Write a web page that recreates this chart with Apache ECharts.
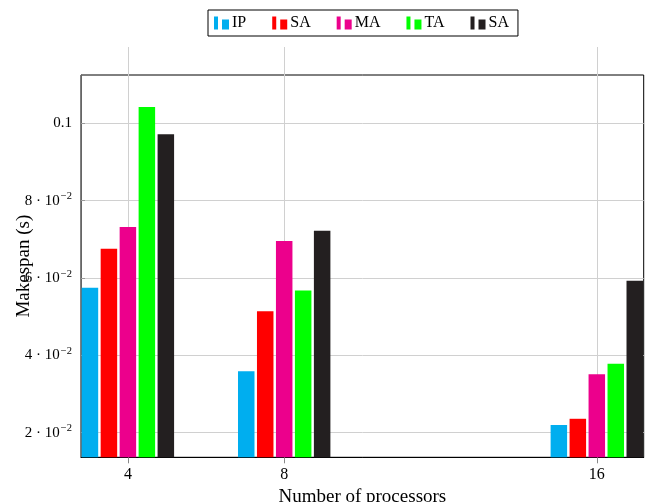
<!DOCTYPE html>
<html>
<head>
<meta charset="utf-8">
<script src="https://cdn.jsdelivr.net/npm/echarts@6/dist/echarts.min.js"></script>
<style>
  html, body { margin: 0; padding: 0; background: #fff; }
  #chart { width: 651px; height: 502px; }
</style>
</head>
<body>
<div id="chart"></div>
<script>
// Processor counts on the x axis
const processors = [4, 8, 16];
// Makespan (s) per method
const ipValues  = [0.0575, 0.0359, 0.0220];
const saValues  = [0.0676, 0.0514, 0.0236];
const maValues  = [0.0732, 0.0696, 0.0351];
const taValues  = [0.1042, 0.0568, 0.0378];
const sa2Values = [0.0972, 0.0722, 0.0593];
// Tick values
const yTicks = [0.02, 0.04, 0.06, 0.08, 0.1];
const xTicks = [4, 8, 16];

const seriesDefs = [
  { name: 'IP',  values: ipValues,  color: '#00AEEF' },
  { name: 'SA',  values: saValues,  color: '#FF0000' },
  { name: 'MA',  values: maValues,  color: '#EC008C' },
  { name: 'TA',  values: taValues,  color: '#00FF00' },
  { name: 'SA ', values: sa2Values, color: '#231F20' }
];

const serif = 'Liberation Serif, Times New Roman, serif';

const chart = echarts.init(document.getElementById('chart'), null, { renderer: 'canvas' });

const legendIcon = 'path://M0,0h4v13h-4zM8,3h7v10h-7z';

chart.setOption({
  animation: false,
  backgroundColor: '#fff',
  grid: {
    left: 81, right: 7.3, top: 75, bottom: 44.7,
    containLabel: false,
    outerBoundsMode: 'none',
    show: true, borderColor: '#000', borderWidth: 1, backgroundColor: 'transparent'
  },
  legend: {
    left: 208, top: 10,
    orient: 'horizontal',
    padding: [5, 9, 5, 6],
    itemGap: 26,
    itemWidth: 15, itemHeight: 13,
    borderColor: '#000', borderWidth: 1,
    icon: legendIcon,
    formatter: n => n.trim(),
    textStyle: { fontFamily: serif, fontSize: 16, color: '#000', padding: [0, 0, 0, -2] },
    data: seriesDefs.map(s => s.name)
  },
  xAxis: [{
    type: 'value',
    min: 2.8, max: 17.2,
    position: 'bottom',
    name: 'Number of processors',
    nameLocation: 'middle',
    nameGap: 22,
    nameTextStyle: { fontFamily: serif, fontSize: 19, color: '#000', verticalAlign: 'top' },
    axisLine: { show: true, lineStyle: { color: '#000', width: 1 } },
    axisTick: { show: true, inside: false, length: 6, customValues: xTicks, lineStyle: { color: '#888' } },
    axisLabel: { customValues: xTicks, margin: 9, fontFamily: serif, fontSize: 16, color: '#000' },
    splitLine: { show: true, lineStyle: { color: '#d0d0d0', width: 1 } }
  }, {
    type: 'value',
    min: 2.8, max: 17.2,
    position: 'top',
    axisLine: { show: false },
    axisTick: { show: true, inside: false, length: 28, customValues: xTicks, lineStyle: { color: '#d0d0d0' } },
    axisLabel: { show: false },
    splitLine: { show: false }
  }],
  yAxis: {
    type: 'value',
    min: 0.01364, max: 0.1125,
    name: 'Makespan (s)',
    nameLocation: 'middle',
    nameGap: 47,
    nameMoveOverlap: false,
    nameTextStyle: { fontFamily: serif, fontSize: 19, color: '#000' },
    axisLine: { show: true, lineStyle: { color: '#666', width: 1 } },
    axisTick: { show: true, inside: true, length: 4, customValues: yTicks, lineStyle: { color: '#999' } },
    axisLabel: {
      customValues: yTicks,
      margin: 9,
      color: '#000',
      fontFamily: serif,
      fontSize: 15,
      formatter: function (v) {
        if (Math.abs(v - 0.1) < 1e-9) return '{m|0.1}';
        const m = Math.round(v * 100);
        return '{m|' + m + ' · 10}{e|−2}';
      },
      rich: {
        m: { fontFamily: serif, fontSize: 15, color: '#000' },
        e: { fontFamily: serif, fontSize: 10.5, color: '#000', padding: [0, 0, 8, 1] }
      }
    },
    splitLine: { show: true, lineStyle: { color: '#d0d0d0', width: 1 } }
  },
  series: seriesDefs.map(s => ({
    name: s.name,
    type: 'bar',
    xAxisIndex: 0,
    barWidth: 16.5,
    barGap: '15%',
    clip: true,
    itemStyle: { color: s.color },
    emphasis: { disabled: true },
    data: processors.map((p, i) => [p, s.values[i]])
  }))
});
</script>
</body>
</html>
